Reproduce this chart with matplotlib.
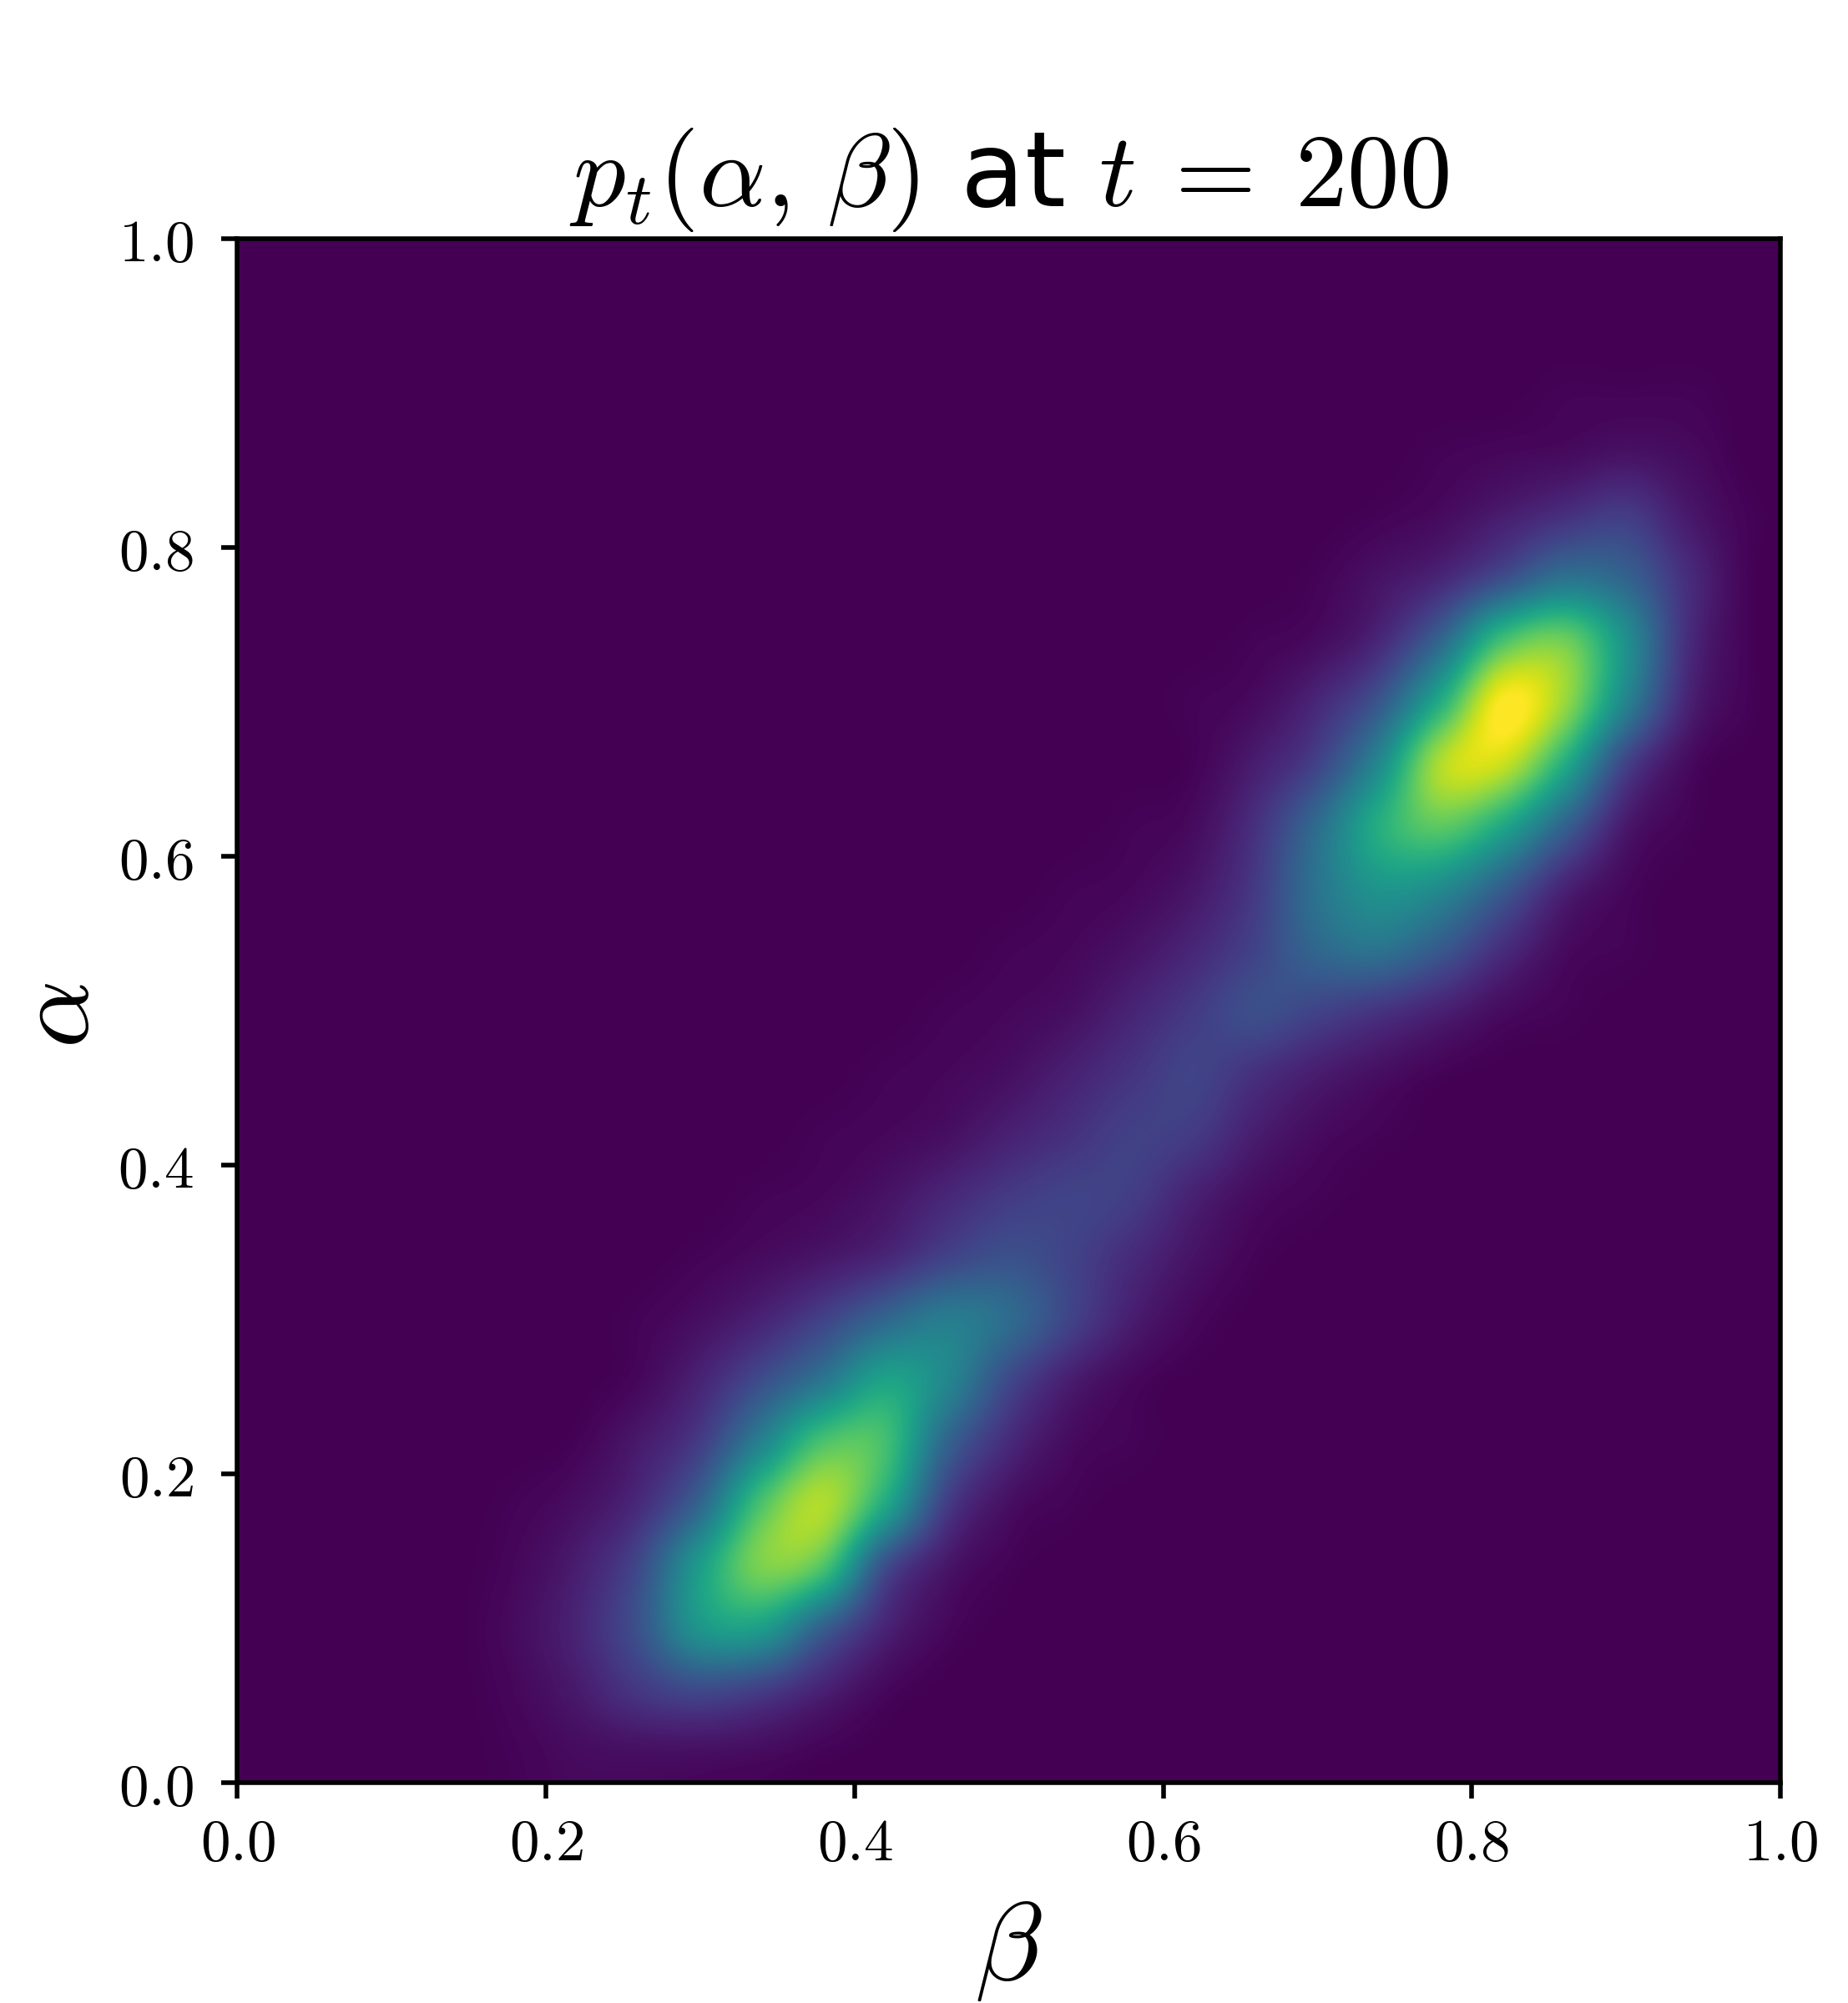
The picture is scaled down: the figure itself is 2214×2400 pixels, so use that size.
import numpy as np
import matplotlib
matplotlib.use('Agg')
import matplotlib.pyplot as plt

plt.rcParams['mathtext.fontset'] = 'cm'

# density (in percent of the peak), one row per alpha,
# bottom row first, cell centres at 0.02, 0.06, ... 0.98
density = [
    [0, 0, 0, 0, 1, 3, 4, 4, 3, 1, 0, 0, 0, 0, 0, 0, 0, 0, 0, 0, 0, 0, 0, 0, 0],
    [0, 0, 0, 0, 2, 7, 16, 22, 18, 9, 2, 0, 0, 0, 0, 0, 0, 0, 0, 0, 0, 0, 0, 0, 0],
    [0, 0, 0, 0, 3, 10, 25, 52, 55, 30, 10, 2, 0, 0, 0, 0, 0, 0, 0, 0, 0, 0, 0, 0, 0],
    [0, 0, 0, 0, 2, 8, 22, 55, 80, 72, 24, 6, 1, 0, 0, 0, 0, 0, 0, 0, 0, 0, 0, 0, 0],
    [0, 0, 0, 0, 1, 4, 12, 33, 72, 88, 60, 18, 4, 1, 0, 0, 0, 0, 0, 0, 0, 0, 0, 0, 0],
    [0, 0, 0, 0, 0, 1, 7, 18, 45, 72, 70, 32, 12, 3, 1, 0, 0, 0, 0, 0, 0, 0, 0, 0, 0],
    [0, 0, 0, 0, 0, 0, 2, 10, 24, 40, 58, 46, 22, 8, 2, 0, 0, 0, 0, 0, 0, 0, 0, 0, 0],
    [0, 0, 0, 0, 0, 0, 1, 4, 10, 20, 33, 42, 35, 20, 8, 2, 0, 0, 0, 0, 0, 0, 0, 0, 0],
    [0, 0, 0, 0, 0, 0, 0, 1, 3, 6, 11, 20, 25, 20, 12, 5, 1, 0, 0, 0, 0, 0, 0, 0, 0],
    [0, 0, 0, 0, 0, 0, 0, 0, 1, 2, 5, 11, 17, 20, 18, 9, 3, 1, 0, 0, 0, 0, 0, 0, 0],
    [0, 0, 0, 0, 0, 0, 0, 0, 0, 1, 2, 4, 9, 14, 19, 17, 8, 3, 1, 0, 0, 0, 0, 0, 0],
    [0, 0, 0, 0, 0, 0, 0, 0, 0, 0, 1, 2, 4, 9, 15, 20, 14, 8, 4, 1, 0, 0, 0, 0, 0],
    [0, 0, 0, 0, 0, 0, 0, 0, 0, 0, 0, 1, 2, 4, 10, 17, 24, 20, 15, 9, 3, 1, 0, 0, 0],
    [0, 0, 0, 0, 0, 0, 0, 0, 0, 0, 0, 0, 1, 2, 5, 11, 20, 33, 38, 28, 13, 3, 1, 0, 0],
    [0, 0, 0, 0, 0, 0, 0, 0, 0, 0, 0, 0, 0, 1, 2, 6, 17, 38, 52, 48, 30, 10, 2, 0, 0],
    [0, 0, 0, 0, 0, 0, 0, 0, 0, 0, 0, 0, 0, 0, 1, 3, 14, 35, 62, 75, 60, 32, 7, 1, 0],
    [0, 0, 0, 0, 0, 0, 0, 0, 0, 0, 0, 0, 0, 0, 0, 1, 8, 20, 47, 88, 92, 62, 20, 3, 0],
    [0, 0, 0, 0, 0, 0, 0, 0, 0, 0, 0, 0, 0, 0, 0, 1, 3, 11, 27, 62, 100, 85, 45, 10, 1],
    [0, 0, 0, 0, 0, 0, 0, 0, 0, 0, 0, 0, 0, 0, 0, 0, 1, 3, 11, 33, 70, 78, 50, 13, 1],
    [0, 0, 0, 0, 0, 0, 0, 0, 0, 0, 0, 0, 0, 0, 0, 0, 0, 1, 5, 11, 24, 38, 32, 13, 1],
    [0, 0, 0, 0, 0, 0, 0, 0, 0, 0, 0, 0, 0, 0, 0, 0, 0, 0, 1, 3, 8, 14, 18, 7, 1],
    [0, 0, 0, 0, 0, 0, 0, 0, 0, 0, 0, 0, 0, 0, 0, 0, 0, 0, 0, 1, 2, 3, 5, 3, 0],
    [0, 0, 0, 0, 0, 0, 0, 0, 0, 0, 0, 0, 0, 0, 0, 0, 0, 0, 0, 0, 0, 1, 1, 1, 0],
    [0, 0, 0, 0, 0, 0, 0, 0, 0, 0, 0, 0, 0, 0, 0, 0, 0, 0, 0, 0, 0, 0, 0, 0, 0],
    [0, 0, 0, 0, 0, 0, 0, 0, 0, 0, 0, 0, 0, 0, 0, 0, 0, 0, 0, 0, 0, 0, 0, 0, 0],
]
tick_values = [0.0, 0.2, 0.4, 0.6, 0.8, 1.0]
tick_labels = ['$0.0$', '$0.2$', '$0.4$', '$0.6$', '$0.8$', '$1.0$']


def main():
    fig = plt.figure(figsize=(5.535, 6.0), dpi=400)
    ax = fig.add_axes([0.1285, 0.11, 0.8349, 0.7708])

    ax.imshow(np.array(density), origin='lower', extent=[0, 1, 0, 1], cmap='viridis',
              vmin=0, vmax=100, interpolation='catrom', aspect='auto')

    ax.set_xticks(tick_values)
    ax.set_xticklabels(tick_labels)
    ax.set_yticks(tick_values)
    ax.set_yticklabels(tick_labels)
    ax.tick_params(labelsize=12.8, width=1.0)
    ax.tick_params(axis='y', pad=6.0)
    for spine in ax.spines.values():
        spine.set_linewidth(1.0)

    ax.set_xlabel(r'$\beta$', fontsize=24, labelpad=4.7)
    ax.set_ylabel(r'$\alpha$', fontsize=23, labelpad=1.5, y=0.497)
    ax.set_title(r'$p_t(\alpha,\,\beta)$ at $t\:=\:200$', fontsize=22.5, pad=7)

    fig.savefig('out.png', dpi=400)


if __name__ == '__main__':
    main()
